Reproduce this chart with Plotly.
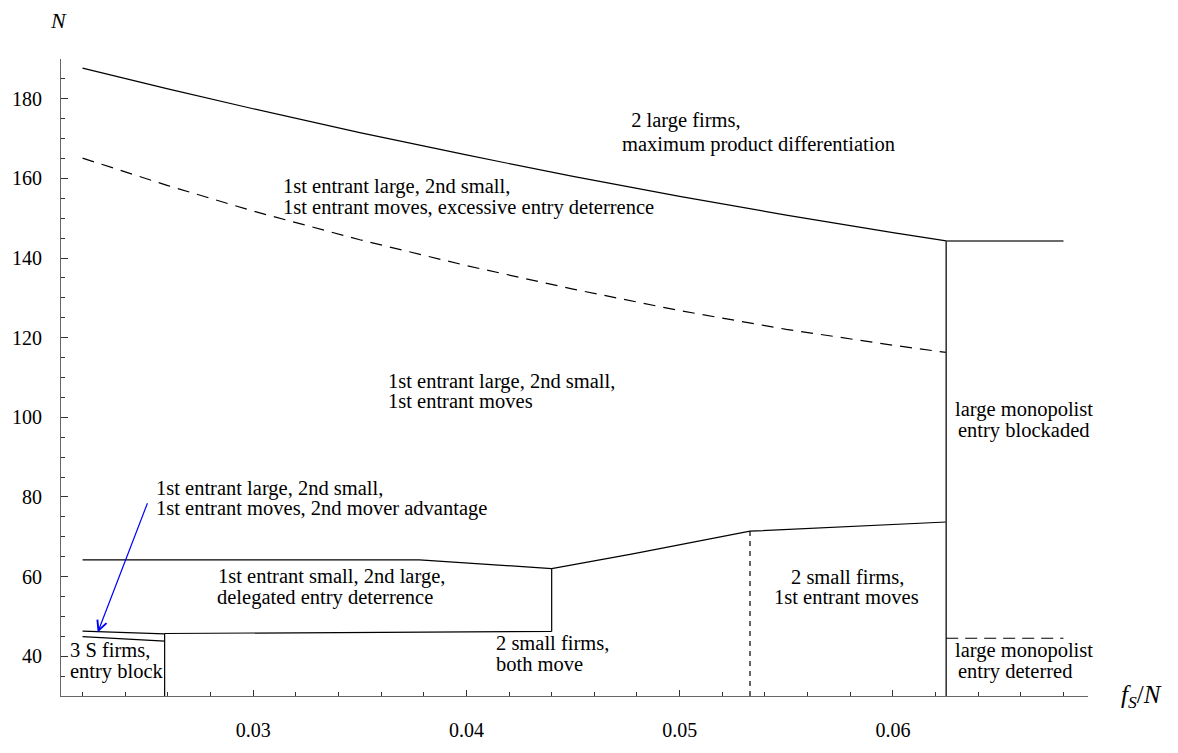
import plotly.graph_objects as go

# ---- region boundaries in the (f_S/N, N) plane ----
# upper solid boundary: above it two large firms with maximum differentiation
upper_x = [0.022, 0.026, 0.030, 0.035, 0.040, 0.045, 0.050, 0.055, 0.060, 0.0625]
upper_n = [187.7, 182.5, 177.5, 171.5, 165.9, 160.5, 155.5, 150.8, 146.4, 144.3]

# dashed boundary: excessive entry deterrence above it
deter_x = [0.022, 0.026, 0.030, 0.035, 0.040, 0.045, 0.050, 0.055, 0.060, 0.0625]
deter_n = [165.1, 158.2, 151.8, 144.6, 138.1, 132.2, 126.8, 122.1, 118.1, 116.3]

# middle boundary: top of delegated deterrence / 2 small firms regions
mid_x = [0.022, 0.0378, 0.044, 0.0478, 0.0533, 0.0625]
mid_n = [64.2, 64.2, 62.0, 65.7, 71.4, 73.7]

# lower boundary of delegated entry deterrence
low_x = [0.02585, 0.044]
low_n = [45.7, 46.2]

# thin second-mover-advantage sliver near the left edge
sliver_x = [0.022, 0.02585]
sliver_top_n = [46.3, 45.6]
sliver_bot_n = [44.9, 43.8]

# vertical boundaries
step_x, step_n = [0.02585, 0.02585], [30, 45.7]
deleg_x, deleg_n = [0.044, 0.044], [46.2, 62.0]
kink_x, kink_n = [0.0533, 0.0533], [30, 71.4]

# monopoly region
mono_x = [0.0625, 0.0625, 0.068]
mono_n = [30, 144.3, 144.3]
mono_deter_x = [0.0625, 0.068]
mono_deter_n = [44.5, 44.5]

FONT = "Liberation Serif, Times New Roman, serif"
BLACK = "#000000"
LABEL_SIZE = 20.5

fig = go.Figure()


def add_line(xs, ys, dash="solid", width=1.2, color=BLACK):
    fig.add_trace(go.Scatter(
        x=xs, y=ys, mode="lines",
        line=dict(color=color, width=width, dash=dash),
        hoverinfo="skip", showlegend=False,
    ))


add_line(upper_x, upper_n)
add_line(deter_x, deter_n, dash="12px,8px")
add_line(mid_x, mid_n)
add_line(low_x, low_n)
add_line(sliver_x, sliver_top_n)
add_line(sliver_x, sliver_bot_n)
add_line(step_x, step_n)
add_line(deleg_x, deleg_n)
add_line(kink_x, kink_n, dash="5px,5px")
add_line(mono_x, mono_n, width=1.6, color="#3a3a3a")
add_line(mono_deter_x, mono_deter_n, dash="12px,7px")

# region labels: (text, x, N, horizontal anchor)
labels = [
    ("\u00a02 large firms,", 0.04740, 174.6, "left"),
    ("maximum product differentiation", 0.04722, 168.5, "left"),
    ("1st entrant large, 2nd small,", 0.03130, 158.0, "left"),
    ("1st entrant moves, excessive entry deterrence", 0.03130, 152.8, "left"),
    ("1st entrant large, 2nd small,", 0.03625, 109.1, "left"),
    ("1st entrant moves", 0.03625, 104.0, "left"),
    ("1st entrant large, 2nd small,", 0.02534, 82.2, "left"),
    ("1st entrant moves, 2nd mover advantage", 0.02534, 77.0, "left"),
    ("1st entrant small, 2nd large,", 0.02825, 59.9, "left"),
    ("delegated entry deterrence", 0.02821, 54.8, "left"),
    ("2 small firms,", 0.04129, 43.3, "left"),
    ("both move", 0.04129, 38.1, "left"),
    ("2 small firms,", 0.05786, 59.9, "center"),
    ("1st entrant moves", 0.05781, 54.8, "center"),
    ("large monopolist", 0.06616, 102.0, "center"),
    ("entry blockaded", 0.06616, 96.7, "center"),
    ("large monopolist", 0.06280, 41.5, "left"),
    ("entry deterred", 0.06294, 36.2, "left"),
    ("3 S firms,", 0.02131, 41.5, "left"),
    ("entry block", 0.02131, 36.2, "left"),
]

annotations = []
for text, x, n, anchor in labels:
    annotations.append(dict(
        x=x, y=n, xref="x", yref="y", text=text, showarrow=False,
        xanchor=anchor, yanchor="middle", align=anchor,
        font=dict(family=FONT, size=LABEL_SIZE, color=BLACK),
    ))

# arrow pointing at the thin sliver
annotations.append(dict(
    x=0.02271, y=45.95, xref="x", yref="y",
    ax=0.02507, ay=78.8, axref="x", ayref="y",
    text="", showarrow=True, arrowhead=5, arrowsize=1.6,
    arrowwidth=1.2, arrowcolor="#0000ff", standoff=0,
))

# axis titles
annotations.append(dict(
    x=-0.002, y=1.0597, xref="paper", yref="paper", text="<i>N</i>",
    showarrow=False, xanchor="center", yanchor="middle",
    font=dict(family=FONT, size=22, color=BLACK),
))
annotations.append(dict(
    x=1.030, y=0.0, xref="paper", yref="paper",
    text="<i>f</i><sub><i>S</i></sub>/<i>N</i>",
    showarrow=False, xanchor="left", yanchor="middle",
    font=dict(family=FONT, size=25, color=BLACK),
))

fig.update_layout(
    width=1178, height=753,
    margin=dict(l=56, r=90, t=59, b=41),
    paper_bgcolor="white", plot_bgcolor="white",
    annotations=annotations,
    hovermode=False,
    xaxis=dict(
        range=[0.02099, 0.06915], showgrid=False, zeroline=False,
        showline=True, linecolor="#666666", linewidth=1.2,
        ticks="inside", ticklen=6, tickcolor="#333333", tickwidth=1,
        dtick=0.01, tick0=0, tickformat=".2f",
        ticklabelstandoff=16,
        tickfont=dict(family=FONT, size=20, color=BLACK),
        minor=dict(ticks="inside", ticklen=3.5, dtick=0.002, tick0=0,
                   tickcolor="#333333", tickwidth=1, showgrid=False),
    ),
    yaxis=dict(
        range=[30, 190], showgrid=False, zeroline=False,
        showline=True, linecolor="#666666", linewidth=1.2,
        ticks="inside", ticklen=7, tickcolor="#333333", tickwidth=1,
        dtick=20, tick0=0,
        ticklabelstandoff=14,
        tickfont=dict(family=FONT, size=20, color=BLACK),
        minor=dict(ticks="inside", ticklen=4, dtick=5, tick0=0,
                   tickcolor="#333333", tickwidth=1, showgrid=False),
    ),
)

fig.write_html("out.html", config=dict(displayModeBar=False))
